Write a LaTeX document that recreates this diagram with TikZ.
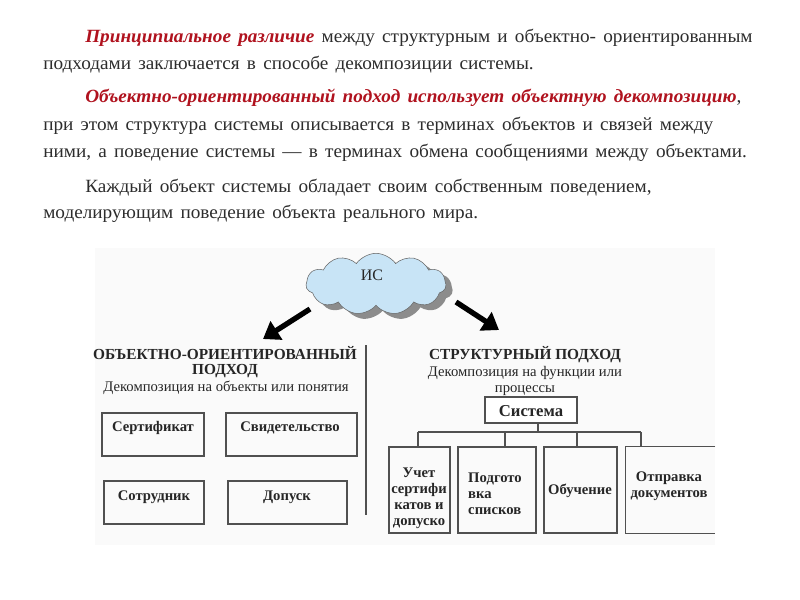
\documentclass[tikz,border=0pt]{standalone}
\usepackage{fontspec}
\setmainfont{Liberation Serif}[FakeStretch=1.03,WordSpace=1.5]
\newfontfamily\dfont{Liberation Serif}
\usetikzlibrary{shapes.symbols,arrows.meta,shadows,fit}
\definecolor{redtxt}{RGB}{176,18,30}
\definecolor{bodytxt}{RGB}{45,45,45}
\definecolor{cloudfill}{RGB}{200,228,246}
\definecolor{lineclr}{RGB}{80,80,80}
\begin{document}
\begin{tikzpicture}[x=0.75pt,y=-0.75pt,
  body/.style={anchor=base west,inner sep=0,text=bodytxt,font=\fontsize{14}{16}\selectfont},
  box/.style={draw=lineclr,line width=0.9pt,inner sep=0},
  dtext/.style={inner sep=0,text=black!85,font=\dfont\bfseries\fontsize{11}{12}\selectfont},
  hdr/.style={inner sep=0,text=black!85,font=\dfont\bfseries\fontsize{11.5}{13}\selectfont},
  sub/.style={inner sep=0,text=black!85,font=\dfont\fontsize{11}{13}\selectfont},
  bigarrow/.style={line width=4pt,-{Triangle[length=12pt,width=16pt]},black},
  conn/.style={draw=lineclr,line width=0.9pt}
]
\useasboundingbox (0,0) rectangle (800,600);
\fill[white] (0,0) rectangle (800,600);

% body text
\newcommand\red[1]{\textcolor{redtxt}{\bfseries\itshape #1}}
\node[body] (t1) at (85,42) {\red{Принципиальное различие} между структурным и объектно- ориентированным};
\node[body] (t2) at (43,69) {подходами заключается в способе декомпозиции системы.};
\node[body] (t3) at (85,102) {\red{Объектно-ориентированный подход использует объектную декомпозицию},};
\node[body] (t4) at (43,130) {при этом структура системы описывается в терминах объектов и связей между};
\node[body] (t5) at (43,157) {ними, а поведение системы — в терминах обмена сообщениями между объектами.};
\node[body] (t6) at (85,192) {Каждый объект системы обладает своим собственным поведением,};
\node[body] (t7) at (43,218) {моделирующим поведение объекта реального мира.};

% diagram background
\fill[black!2] (95,248) rectangle (715,545);

% cloud
\node[cloud, cloud puffs=11, cloud puff arc=110, aspect=2.2, draw=black!60, fill=cloudfill,
      minimum width=105pt, minimum height=46pt, inner sep=0,
      drop shadow={shadow xshift=5pt, shadow yshift=-4pt, fill=black!45, opacity=1}] (cloud) at (376,284) {};
\node[inner sep=0,font=\dfont\fontsize{12}{14}\selectfont,text=black!85] (is) at (372,275) {ИС};

\coordinate (aLs) at (310,309);
\coordinate (aLe) at (263,339);
\coordinate (aRs) at (456,302);
\coordinate (aRe) at (499,330);
\draw[bigarrow] (aLs) -- (aLe);
\draw[bigarrow] (aRs) -- (aRe);

% left header
\node[hdr] (lh1) at (225,353) {ОБЪЕКТНО-ОРИЕНТИРОВАННЫЙ};
\node[hdr] (lh2) at (225,371) {ПОДХОД};
\node[sub] (lh3) at (226,388) {Декомпозиция на объекты или понятия};

\coordinate (dvt) at (366,345);
\coordinate (dvb) at (366,515);
\draw[draw=lineclr,line width=1.2pt] (dvt) -- (dvb);

% left boxes
\node[box,fit={(102,413) (204,456)}] (sert) {};
\node[box,fit={(226,413) (357,456)}] (svid) {};
\node[box,fit={(104,481) (204,524)}] (sotr) {};
\node[box,fit={(228,481) (347,524)}] (dop) {};
\node[dtext] (sertT) at (153,428) {Сертификат};
\node[dtext] (svidT) at (290,428) {Свидетельство};
\node[dtext] (sotrT) at (154,497) {Сотрудник};
\node[dtext] (dopT) at (287,497) {Допуск};

% right header
\node[hdr] (rh1) at (525,355) {СТРУКТУРНЫЙ ПОДХОД};
\node[sub] (rh2) at (525,373) {Декомпозиция на функции или};
\node[sub] (rh3) at (525,391) {процессы};

\node[box,fill=white,fit={(485,397) (577,423)}] (sys) {};
\node[dtext,font=\dfont\bfseries\fontsize{12.5}{14}\selectfont] (sysT) at (531,411) {Система};

% bottom boxes
\node[box,fit={(389,447) (450,533)}] (b1) {};
\node[box,fit={(458,447) (536,533)}] (b2) {};
\node[box,fit={(544,447) (617,533)}] (b3) {};
\node[inner sep=0,fit={(626,447) (715,533)}] (b4) {};
\draw[conn] (b4.north east) -- (b4.north west) -- (b4.south west) -- (b4.south east);

\node[dtext,align=center] (b1T) at (419,498) {Учет\\сертифи\\катов и\\допуско};
\node[dtext,align=left] (b2T) at (495,494) {Подгото\\вка\\списков};
\node[dtext] (b3T) at (580,491) {Обучение};
\node[dtext,align=center] (b4T) at (669,486) {Отправка\\документов};

% tree connectors
\coordinate (bus) at (538,432);
\coordinate (d1) at (418,432);
\coordinate (d2) at (505,432);
\coordinate (d3) at (577,432);
\coordinate (d4) at (641,432);
\draw[conn] (sys.south -| bus) -- (bus);
\draw[conn] (d1) -- (d4);
\draw[conn] (d1) -- (d1 |- b1.north);
\draw[conn] (d2) -- (d2 |- b2.north);
\draw[conn] (d3) -- (d3 |- b3.north);
\draw[conn] (d4) -- (d4 |- b4.north);
\end{tikzpicture}
\end{document}
